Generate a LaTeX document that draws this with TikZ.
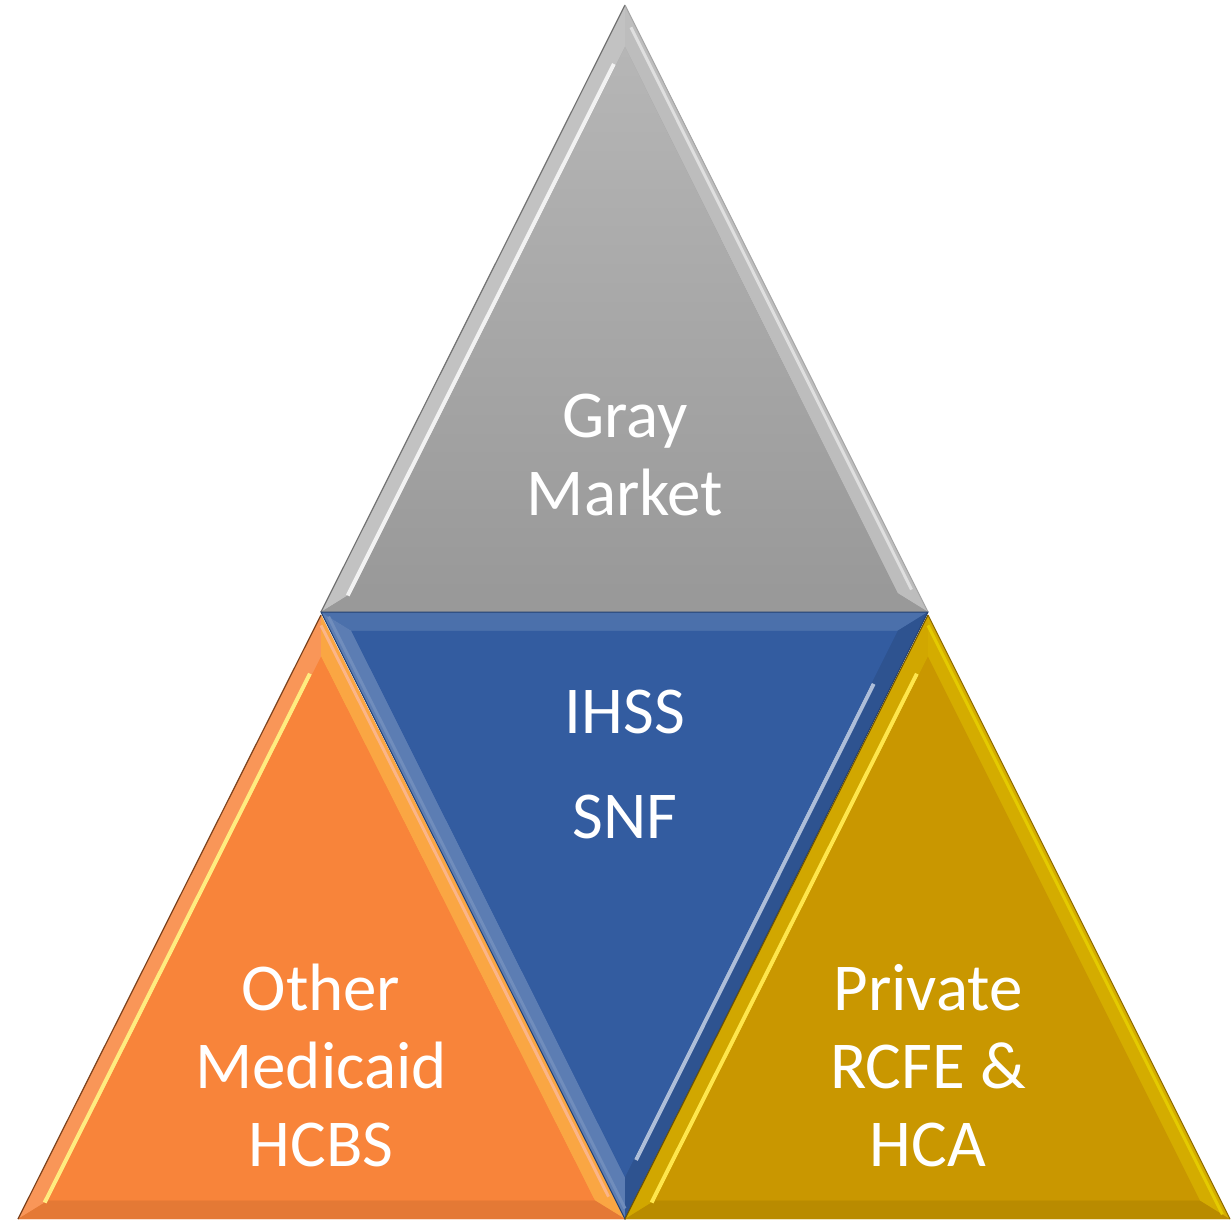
\documentclass[tikz,border=0pt]{standalone}
\usepackage{fontspec}
\setmainfont{Carlito}
\usetikzlibrary{calc}
\definecolor{grayin}{HTML}{A6A6A6}
\definecolor{graytop}{HTML}{B6B6B6}
\definecolor{graybot}{HTML}{999999}
\definecolor{bluein}{HTML}{335CA0}
\definecolor{orangein}{HTML}{F8843A}
\definecolor{goldin}{HTML}{C99700}
\tikzset{
  lbl/.style={text=white, anchor=base, inner sep=0pt, font=\fontsize{67}{78}\selectfont},
  face/.style={draw=none},
  streak/.style={line width=4pt, line cap=butt},
}
\newcommand\mktri[5]{%
  \coordinate (#1a) at #2; \coordinate (#1b) at #3; \coordinate (#1c) at #4; \coordinate (#1i) at #5;
  \coordinate (#1A) at ($(#1i)!0.9!(#1a)$);
  \coordinate (#1B) at ($(#1i)!0.9!(#1b)$);
  \coordinate (#1C) at ($(#1i)!0.9!(#1c)$);
  \coordinate (#1sa) at ($(#1i)!0.912!(#1a)$);
  \coordinate (#1sb) at ($(#1i)!0.912!(#1b)$);
  \coordinate (#1sc) at ($(#1i)!0.912!(#1c)$);
  \coordinate (#1oa) at ($(#1i)!0.975!(#1a)$);
  \coordinate (#1ob) at ($(#1i)!0.975!(#1b)$);
  \coordinate (#1oc) at ($(#1i)!0.975!(#1c)$);
}
\begin{document}
\begin{tikzpicture}[x=1pt,y=-1pt]
\useasboundingbox[fill=white] (0,0) rectangle (1232,1219);
\mktri{t}{(625,5)}{(321,612)}{(928,612)}{(625,424.4)}
\mktri{l}{(321,615)}{(18,1219)}{(625,1219)}{(321.5,1031.8)}
\mktri{m}{(321,612)}{(928,612)}{(625,1219)}{(624.5,799.6)}
\mktri{r}{(928,615)}{(625,1219)}{(1230,1219)}{(927.5,1031.8)}

% ---- top gray triangle
\fill[graybot] (ta) -- (tb) -- (tc) -- cycle;
\fill[face, fill=black!24] (ta) -- (tb) -- (tB) -- (tA) -- cycle;
\fill[face, fill=black!26] (tc) -- (ta) -- (tA) -- (tC) -- cycle;
\fill[face, fill=black!40] (tb) -- (tc) -- (tC) -- (tB) -- cycle;
\draw[streak, white!90!gray] ($(tsa)!0.04!(tsb)$) -- (tsb);
\draw[streak, white!75!gray, line width=3pt] ($(toa)!0.02!(toc)$) -- ($(toa)!0.97!(toc)$);
\shade[top color=graytop, bottom color=graybot] (tA) -- (tB) -- (tC) -- cycle;
\draw[black!55, line width=1.2pt] (tb) -- (ta);
\draw[black!35, line width=1pt] (ta) -- (tc);
\draw[black!60, line width=1pt] (tb) -- (tc);

% ---- left orange triangle
\fill[orangein] (la) -- (lb) -- (lc) -- cycle;
\fill[face, fill=orangein!85!white] (la) -- (lb) -- (lB) -- (lA) -- cycle;
\fill[face, fill=orangein!80!yellow!90!white] (lc) -- (la) -- (lA) -- (lC) -- cycle;
\fill[face, fill=orangein!92!black] (lb) -- (lc) -- (lC) -- (lB) -- cycle;
\draw[streak, orange!30!yellow!50!white] ($(lsa)!0.04!(lsb)$) -- (lsb);
\draw[streak, orangein!60!white, line width=3pt] (loa) -- ($(loa)!0.97!(loc)$);
\fill[orangein] (lA) -- (lB) -- (lC) -- cycle;
\draw[orangein!50!black, line width=1.2pt] (lb) -- (la);

% ---- middle blue triangle
\fill[bluein] (ma) -- (mb) -- (mc) -- cycle;
\fill[face, fill=bluein!88!white] (ma) -- (mb) -- (mB) -- (mA) -- cycle;
\fill[face, fill=bluein!90!black] (mb) -- (mc) -- (mC) -- (mB) -- cycle;
\fill[face, fill=bluein!80!white] (mc) -- (ma) -- (mA) -- (mC) -- cycle;
\draw[streak, bluein!40!white] ($(msb)!0.1!(msc)$) -- ($(msb)!0.96!(msc)$);
\draw[streak, bluein!70!white, line width=3pt] (moc) -- (moa);
\fill[bluein] (mA) -- (mB) -- (mC) -- cycle;
\draw[bluein!70!black, line width=1pt] (ma) -- (mb) -- (mc) -- cycle;

% ---- right gold triangle
\fill[goldin] (ra) -- (rb) -- (rc) -- cycle;
\fill[face, fill=goldin!85!yellow] (ra) -- (rb) -- (rB) -- (rA) -- cycle;
\fill[face, fill=goldin!92!black] (rb) -- (rc) -- (rC) -- (rB) -- cycle;
\fill[face, fill=goldin!80!yellow] (rc) -- (ra) -- (rA) -- (rC) -- cycle;
\draw[streak, yellow!80!orange!70!white] ($(rsa)!0.04!(rsb)$) -- (rsb);
\draw[streak, goldin!50!yellow, line width=3pt] (roc) -- (roa);
\fill[goldin] (rA) -- (rB) -- (rC) -- cycle;
\draw[goldin!55!black, line width=1pt] (rb) -- (ra);
\draw[goldin!70!black, line width=1pt] (ra) -- (rc);

% ---- labels
\node[lbl] (g1) at (625,437) {Gray};
\node[lbl] (g2) at (625,515) {Market};
\node[lbl] (b1) at (625,733) {IHSS};
\node[lbl] (b2) at (625,838) {SNF};
\node[lbl] (o1) at (321,1010) {Other};
\node[lbl] (o2) at (321,1088) {Medicaid};
\node[lbl] (o3) at (321,1166) {HCBS};
\node[lbl] (p1) at (928,1010) {Private};
\node[lbl] (p2) at (928,1088) {RCFE \&};
\node[lbl] (p3) at (928,1166) {HCA};
\end{tikzpicture}
\end{document}
